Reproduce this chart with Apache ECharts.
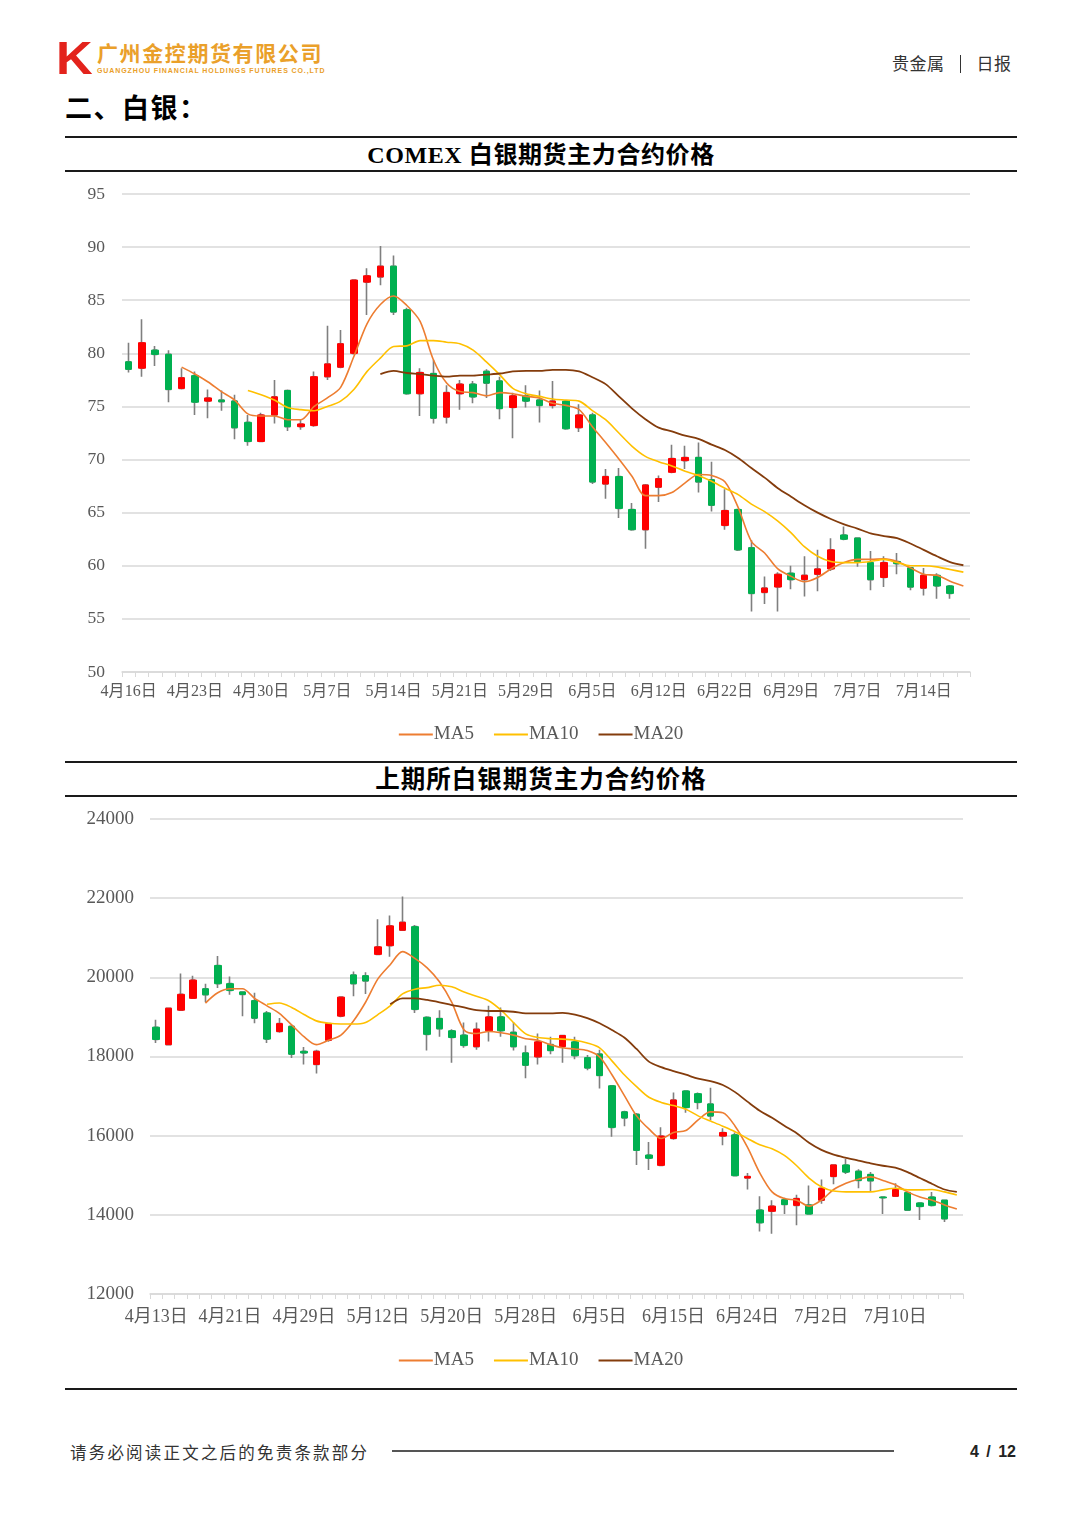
<!DOCTYPE html>
<html>
<head>
<meta charset="utf-8">
<script src="https://cdn.jsdelivr.net/npm/echarts@6/dist/echarts.min.js"></script>
<style>
  body { margin: 0; background: #fff; }
  .page { position: relative; width: 1080px; height: 1527px; background: #fff; overflow: hidden;
          font-family: 'Noto Sans CJK SC', sans-serif; color: #000; }
  .abs { position: absolute; white-space: nowrap; }
  .logo-k { left: 56px; top: 35px; font: 900 47px/46px 'Liberation Sans', sans-serif; color: #e3231c;
            transform: scaleX(1.08); transform-origin: left top; }
  .logo-cn { left: 97px; top: 40px; font: 700 21px/24px 'Noto Sans CJK SC', sans-serif; color: #eaa02a; letter-spacing: 1.6px; }
  .logo-en { left: 97px; top: 67px; font: 700 7px/8px 'Liberation Sans Narrow', 'Liberation Sans', sans-serif; color: #eaa02a; letter-spacing: 0.9px; }
  .head-right { left: 892px; top: 52px; font: 400 17px/22px 'Noto Sans CJK SC', sans-serif; color: #333; letter-spacing: 0.5px; }
  .head-right .bar { display: inline-block; width: 1px; height: 18px; background: #333; margin: 0 16px 0 15px; vertical-align: -3px; }
  .section { left: 65px; top: 90px; font: 700 27px/34px 'Noto Sans CJK SC', sans-serif; letter-spacing: 1.5px; }
  .rule { position: absolute; left: 65px; width: 952px; height: 2px; background: #1a1a1a; }
  .title { left: 65px; width: 952px; text-align: center; font: 700 24px/34px 'Liberation Serif', 'Noto Sans CJK SC', serif; letter-spacing: 0.6px; }
  .title.cn { font-size: 24.5px; letter-spacing: 1px; }
  .chart { position: absolute; left: 65px; width: 952px; }
  .foot { left: 70px; top: 1440px; font: 400 16.5px/24px 'Noto Sans CJK SC', sans-serif; color: #333; letter-spacing: 2.2px; }
  .foot-line { position: absolute; left: 392px; top: 1450px; width: 502px; height: 2px; background: #555; }
  .page-no { left: 950px; top: 1440px; width: 66px; text-align: right; font: 700 16px/24px 'Liberation Sans', sans-serif; color: #222; word-spacing: 3px; }
</style>
</head>
<body>
<div class="page">
  <div class="abs logo-k">K</div>
  <div class="abs logo-cn">广州金控期货有限公司</div>
  <div class="abs logo-en">GUANGZHOU FINANCIAL HOLDINGS FUTURES CO.,LTD</div>
  <div class="abs head-right">贵金属<span class="bar"></span>日报</div>
  <div class="abs section">二、白银：</div>

  <div class="rule" style="top:136px"></div>
  <div class="abs title" style="top:138px">COMEX 白银期货主力合约价格</div>
  <div class="rule" style="top:170px"></div>
  <div class="chart" id="comex" style="top:172px;height:588px"></div>

  <div class="rule" style="top:761px"></div>
  <div class="abs title cn" style="top:763px">上期所白银期货主力合约价格</div>
  <div class="rule" style="top:795px"></div>
  <div class="chart" id="shfe" style="top:797px;height:590px"></div>

  <div class="rule" style="top:1388px"></div>
  <div class="abs foot">请务必阅读正文之后的免责条款部分</div>
  <div class="foot-line"></div>
  <div class="abs page-no">4 / 12</div>
</div>

<script>
// ---- COMEX silver main contract (USD/oz) ----
const comexDates = ['4月16日','4月17日','4月20日','4月21日','4月22日','4月23日','4月24日','4月27日','4月28日','4月29日',
  '4月30日','5月1日','5月4日','5月5日','5月6日','5月7日','5月8日','5月11日','5月12日','5月13日',
  '5月14日','5月15日','5月18日','5月19日','5月20日','5月21日','5月22日','5月26日','5月27日','5月28日',
  '5月29日','6月1日','6月2日','6月3日','6月4日','6月5日','6月8日','6月9日','6月10日','6月11日',
  '6月12日','6月15日','6月16日','6月17日','6月18日','6月22日','6月23日','6月24日','6月25日','6月26日',
  '6月29日','6月30日','7月1日','7月2日','7月6日','7月7日','7月8日','7月9日','7月10日','7月13日',
  '7月14日','7月15日','7月16日','7月17日']
const comexOpen = [79.2,78.6,80.3,79.9,76.7,77.9,75.5,75.6,75.5,73.5, 71.7,74.2,76.5,73.1,73.2,77.8,78.7,80.0,86.7,87.2,
  88.2,84.1,76.2,78.1,74.0,76.2,77.1,78.3,77.4,74.9, 76.0,75.6,75.1,75.5,73.0,74.2,67.7,68.4,65.3,63.4,
  67.4,68.8,69.9,70.2,68.1,63.8,65.3,61.7,57.5,58.0, 59.3,58.7,59.2,59.7,62.9,62.6,60.3,58.9,60.4,59.8, 57.9,59.1,58.1]
const comexClose = [78.5,81.0,79.9,76.6,77.7,75.4,75.8,75.45,73.0,71.7, 74.2,75.9,73.1,73.35,77.8,79.0,80.9,86.9,87.3,88.2,
  83.9,76.2,78.2,73.9,76.3,77.1,75.9,77.2,74.8,76.0, 75.5,75.1,75.5,72.9,74.2,67.9,68.4,65.4,63.4,67.6,
  68.2,70.1,70.2,67.9,65.7,65.2,61.5,57.4,57.9,59.2, 58.7,59.1,59.7,61.5,62.5,60.4,58.7,60.3,60.2,58.0, 59.1,58.1,57.4]
const comexLow = [78.2,77.8,78.8,75.4,76.6,74.2,73.9,74.6,71.9,71.3, 71.7,73.4,72.7,72.8,73.1,77.5,78.6,79.9,83.6,86.4,
  83.6,76.1,74.1,73.4,73.4,74.7,75.3,75.8,73.8,72.0, 74.9,73.5,74.8,72.8,72.6,67.7,66.3,64.5,63.3,61.6,
  66.0,68.7,69.1,66.9,65.1,63.4,61.4,55.7,56.4,55.7, 57.8,57.1,57.6,59.5,62.4,59.9,57.7,58.0,59.2,57.7, 57.2,56.9,56.9]
const comexHigh = [81.0,83.2,80.7,80.3,78.6,78.3,76.6,76.5,76.1,74.2, 74.4,77.5,76.6,73.8,78.3,82.6,82.2,86.9,88.0,90.1,
  89.2,84.3,78.6,79.4,77.0,77.5,77.4,78.5,77.8,76.3, 77.0,76.5,77.4,75.6,75.2,74.4,69.1,69.2,65.9,67.7,
  68.5,71.4,71.3,71.6,69.8,67.2,65.3,62.4,59.0,59.4, 60.0,60.9,61.5,62.6,63.7,62.6,61.4,60.9,61.2,59.8, 59.8,59.3,58.2]
const comexMa5 = ['-','-','-','-',78.7,78.05,77.3,76.4,75.6,74.3, 74.1,74.1,73.75,73.75,75.0,75.8,76.8,79.7,82.8,84.6,
  85.4,84.5,83.0,79.4,77.2,76.4,76.3,76.0,76.3,76.2, 75.95,75.8,75.3,75.1,74.7,73.1,71.6,70.05,68.4,66.6,
  66.6,66.9,67.8,68.6,68.5,67.9,65.5,62.3,61.2,59.7, 59.0,58.5,58.9,59.7,60.3,60.6,60.6,60.65,60.4,59.8, 59.2,59.1,58.55,58.1]
const comexMa10 = ['-','-','-','-','-','-','-','-','-',76.5, 76.1,75.6,74.9,74.7,74.6,75.0,75.5,76.6,78.3,79.55,
  80.65,80.7,81.2,81.2,81.05,80.9,80.3,79.2,78.0,76.7, 76.2,75.95,75.7,75.6,75.5,74.6,73.75,72.5,71.25,70.3,
  69.8,69.4,68.9,68.5,67.95,67.3,66.7,65.8,65.1,64.2, 63.1,61.8,60.9,60.4,60.3,60.3,60.4,60.6,60.3,60.0, 60.0,59.9,59.65,59.4]
const comexMa20 = ['-','-','-','-','-','-','-','-','-','-', '-','-','-','-','-','-','-','-','-',78.05,
  78.35,78.15,78.05,77.9,77.8,77.9,77.9,78.0,78.1,78.3, 78.35,78.35,78.45,78.45,78.3,77.75,77.1,75.95,74.8,73.8,
  73.0,72.65,72.25,71.95,71.4,70.9,70.15,69.2,68.3,67.3, 66.5,65.7,65.0,64.4,63.9,63.5,63.05,62.8,62.6,62.1, 61.5,60.9,60.35,60.05]
const comexTicks = [50, 95, 5]   // min, max, interval

// ---- SHFE silver main contract (CNY/kg) ----
const shfeDates = ['4月13日','4月14日','4月15日','4月16日','4月17日','4月20日','4月21日','4月22日','4月23日','4月24日',
  '4月27日','4月28日','4月29日','4月30日','5月6日','5月7日','5月8日','5月11日','5月12日','5月13日',
  '5月14日','5月15日','5月18日','5月19日','5月20日','5月21日','5月22日','5月25日','5月26日','5月27日',
  '5月28日','5月29日','6月1日','6月2日','6月3日','6月4日','6月5日','6月8日','6月9日','6月10日',
  '6月11日','6月12日','6月15日','6月16日','6月17日','6月18日','6月22日','6月23日','6月24日','6月25日',
  '6月26日','6月29日','6月30日','7月1日','7月2日','7月3日','7月6日','7月7日','7月8日','7月9日',
  '7月10日','7月13日','7月14日','7月15日','7月16日','7月17日']
const shfeOpen = [18740,18300,19170,19470,19710,20300,19840,19630,19410,19100, 18630,18760,18130,17800,18410,19020,20060,20040,20580,20800,
  21190,21280,18990,18960,18650,18540,18250,18650,19000,18610, 18090,17990,18300,18250,18370,17970,18060,17260,16600,16540,
  15510,15250,15930,17130,17060,16800,15990,16020,14930,14120, 14090,14380,14240,14250,14370,14970,15260,15100,15020,14450,
  14470,14560,14300,14450,14370]
const shfeClose = [18430,19220,19570,19930,19560,19840,19670,19570,18970,18440, 18830,18060,18090,18130,18830,19500,19840,19910,20770,21300,
  21390,19190,18560,18700,18480,18280,18690,19000,18650,18250, 17780,18370,18150,18530,18020,17710,17520,16210,16450,15630,
  15430,15990,16900,16710,16840,16500,16080,14990,14970,13800, 14220,14260,14410,14020,14670,15260,15080,14870,14860,14430,
  14640,14120,14210,14240,13900]
const shfeLow = [18340,18280,19170,19450,19370,19730,19560,19020,18840,18340, 18600,17960,17800,17570,18370,18990,19520,19580,20570,20520,
  21170,19100,18150,18500,17840,18220,18170,18380,18500,18150, 17450,17800,18060,17840,17930,17650,17190,15970,16240,15260,
  15130,15240,15900,16580,16670,16390,15760,14970,14640,13580, 13520,14020,13740,14000,14280,14770,15030,14670,14580,14020,
  14450,14100,13870,14210,13820]
const shfeHigh = [18930,19240,20100,20040,19840,20540,20020,19640,19610,19150, 18970,18800,18240,18170,18840,19510,20150,20130,21470,21560,
  22040,21320,19020,19170,18690,18860,18860,19280,19240,18870, 18280,18580,18500,18530,18500,18040,18170,17280,16630,16570,
  15840,16210,17090,17150,17090,17210,16190,16080,15060,14470, 14370,14430,14510,14740,14890,15280,15410,15150,15080,14450,
  14800,14580,14320,14580,14390]
const shfeMa5 = ['-','-','-','-',19350,19610,19710,19710,19470,19280, 19090,18800,18500,18300,18410,18540,18890,19370,19960,20320,
  20650,20480,20240,19890,19370,18670,18580,18630,18600,18540, 18450,18410,18300,18220,18190,18150,17990,17540,17020,16500,
  16170,15930,16080,16130,16400,16600,16580,16240,15710,15060, 14580,14410,14370,14220,14370,14640,14800,14900,14960,14870,
  14760,14580,14450,14370,14250,14150]
const shfeMa10 = ['-','-','-','-','-','-','-','-','-',19320, 19350,19240,19060,18900,18840,18820,18820,18860,19060,19280,
  19580,19700,19740,19800,19760,19630,19520,19410,19170,18860, 18570,18480,18450,18440,18410,18340,18220,17890,17540,17240,
  16970,16840,16760,16670,16500,16370,16240,16100,15930,15770, 15670,15500,15240,14930,14710,14600,14580,14580,14580,14630,
  14670,14630,14630,14640,14580,14500]
const shfeMa20 = ['-','-','-','-','-','-','-','-','-','-', '-','-','-','-','-','-','-','-','-',19320,
  19470,19470,19430,19370,19300,19240,19170,19150,19150,19130, 19090,19090,19090,19100,19060,18970,18840,18670,18480,18190,
  17870,17730,17630,17540,17440,17380,17280,17100,16860,16630, 16450,16250,16060,15820,15640,15520,15440,15370,15300,15240,
  15190,15080,14930,14780,14640,14580]
const shfeTicks = [12000, 24000, 2000]

const UP = '#ff0000'
const DOWN = '#00b050'
const WICK = '#7f7f7f'
const GRID = '#d9d9d9'
const LABEL = '#595959'
const SERIF = "'Liberation Serif', 'Noto Sans CJK SC', serif"

function buildOption(c) {
  const n = c.dates.length
  // wick series: full [open, close, low, high]; body series: body only, drawn on top
  const wicks = []
  const bodies = []
  for (let i = 0; i < n; i++) {
    if (i >= c.open.length) { wicks.push('-'); bodies.push('-'); continue }
    const o = c.open[i], cl = c.close[i]
    wicks.push([o, cl, c.low[i], c.high[i]])
    bodies.push([o, cl, Math.min(o, cl), Math.max(o, cl)])
  }
  const ma = (name, data, color, width) => ({
    name, type: 'line', data, smooth: 0.3, showSymbol: false, symbol: 'none',
    lineStyle: { color, width }, itemStyle: { color }, z: 5
  })
  return {
    animation: false,
    backgroundColor: '#fff',
    grid: c.grid,
    legend: {
      data: ['MA5', 'MA10', 'MA20'],
      top: c.legendTop, left: 'center',
      icon: 'rect', itemWidth: 34, itemHeight: 2, itemGap: 20,
      textStyle: { color: LABEL, fontFamily: SERIF, fontSize: c.legendFont, padding: [0, 0, 0, -4] }
    },
    xAxis: {
      type: 'category',
      data: c.dates,
      boundaryGap: true,
      axisLine: { lineStyle: { color: GRID, width: 1.5 } },
      axisTick: { show: true, interval: 0, length: 5, lineStyle: { color: GRID } },
      axisLabel: { interval: c.labelEvery - 1, color: LABEL, fontFamily: SERIF, fontSize: c.xFont, margin: c.xMargin },
      splitLine: { show: false }
    },
    yAxis: {
      type: 'value',
      min: c.ticks[0], max: c.ticks[1], interval: c.ticks[2],
      axisLine: { show: false },
      axisTick: { show: false },
      axisLabel: { color: LABEL, fontFamily: SERIF, fontSize: c.yFont, margin: c.yMargin, formatter: v => String(v) },
      splitLine: { lineStyle: { color: GRID, width: 1.5 } }
    },
    series: [
      {
        name: 'wick', type: 'candlestick', data: wicks, barWidth: 4,
        itemStyle: { color: 'transparent', color0: 'transparent', borderColor: WICK, borderColor0: WICK, borderWidth: 1.6 }
      },
      {
        name: 'body', type: 'candlestick', data: bodies, barWidth: 7,
        itemStyle: { color: UP, color0: DOWN, borderColor: UP, borderColor0: DOWN, borderWidth: 1 }
      },
      ma('MA5', c.ma5, '#ed7d31', 1.6),
      ma('MA10', c.ma10, '#ffc000', 1.6),
      ma('MA20', c.ma20, '#843c0c', 1.8)
    ]
  }
}

const comexChart = echarts.init(document.getElementById('comex'))
comexChart.setOption(buildOption({
  dates: comexDates, open: comexOpen, close: comexClose, low: comexLow, high: comexHigh,
  ma5: comexMa5, ma10: comexMa10, ma20: comexMa20, ticks: comexTicks,
  grid: { left: 57, right: 47, top: 22, bottom: 88 },
  labelEvery: 5, xFont: 16, xMargin: 12, yFont: 17.5, yMargin: 17,
  legendTop: 548, legendFont: 19
}))

const shfeChart = echarts.init(document.getElementById('shfe'))
shfeChart.setOption(buildOption({
  dates: shfeDates, open: shfeOpen, close: shfeClose, low: shfeLow, high: shfeHigh,
  ma5: shfeMa5, ma10: shfeMa10, ma20: shfeMa20, ticks: shfeTicks,
  grid: { left: 85, right: 54, top: 22, bottom: 93 },
  labelEvery: 6, xFont: 18, xMargin: 14, yFont: 19, yMargin: 16,
  legendTop: 549, legendFont: 19
}))
</script>
</body>
</html>
